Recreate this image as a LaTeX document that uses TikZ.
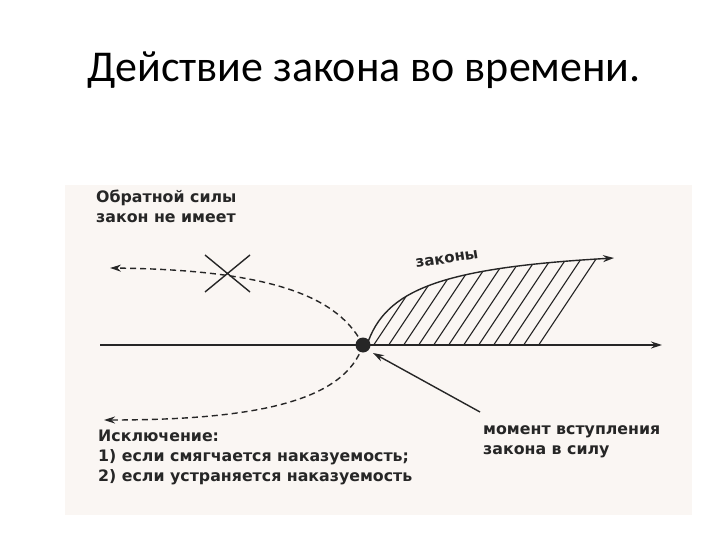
\documentclass[tikz,border=0pt]{standalone}
\usepackage{fontspec}
\setmainfont{Carlito}
\newfontfamily\lbl{DejaVu Sans Bold}
\usetikzlibrary{arrows.meta}
\begin{document}
\begin{tikzpicture}[x=1pt,y=-1pt,
  lab/.style={font=\lbl\fontsize{15.8}{20}\selectfont,align=left,anchor=north west,inner sep=0pt,text=black!85},
  ln/.style={line width=1.4pt,black!85},
  dsh/.style={dash pattern=on 6pt off 4pt},
  arr/.style={-{Stealth[length=11pt,width=7pt]}}]
\useasboundingbox (0,0) rectangle (720,540);
\fill[white] (0,0) rectangle (720,540);
\fill[black!12!brown!6!white] (65,185) rectangle (692,515);
\node[font=\fontsize{44}{50}\selectfont,anchor=center] (title) at (364,70) {Действие закона во времени.};
\coordinate (L) at (100,345);
\coordinate (R) at (662,345);
\draw[ln,arr] (L) -- (R);
\coordinate (D) at (363,345);
\begin{scope}
\clip (367,345) .. controls (385,290) and (440,268) .. (612,258) -- (612,345) -- cycle;
\foreach \x in {373,388,...,540} \draw[line width=1.1pt,black!85] (\x,346) -- (\x+60,256);
\end{scope}
\draw[ln,arr] (367,345) .. controls (385,290) and (440,268) .. (614,258);
\node[lab,anchor=center,rotate=9,font=\lbl\fontsize{15}{18}\selectfont] (zak) at (447,259) {законы};
\draw[ln,dsh,arr] (D) .. controls (340,300) and (280,270) .. (110,268);
\draw[ln] (205,255) -- (250,292) (205,292) -- (250,255);
\draw[ln,dsh,arr] (D) .. controls (345,400) and (260,420) .. (104,420);
\fill[black!85] (D) circle (7.5);
\coordinate (A) at (480,412);
\draw[ln,arr] (A) -- (373,353);
\node[lab] (t1) at (96,190) {Обратной силы\\закон не имеет};
\node[lab] (t2) at (98,430) {Исключение:\\1) если смягчается наказуемость;\\2) если устраняется наказуемость};
\node[lab] (t3) at (483,425) {момент вступления\\закона в силу};
\end{tikzpicture}
\end{document}
